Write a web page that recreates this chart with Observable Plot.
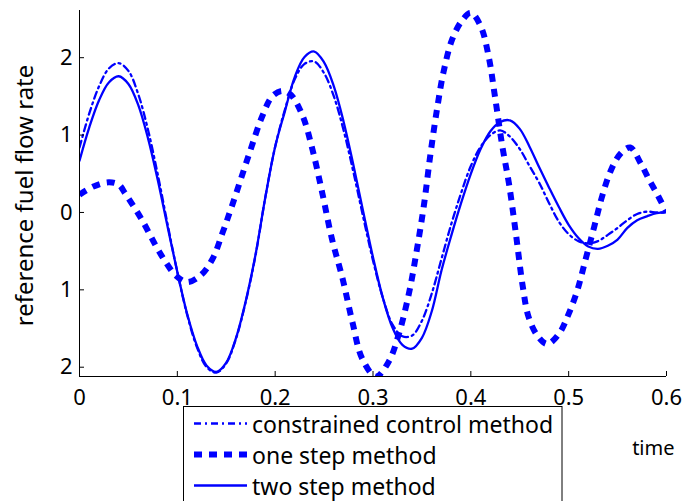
<!DOCTYPE html>
<html>
<head>
<meta charset="utf-8">
<script src="https://cdn.jsdelivr.net/npm/d3@7"></script>
<script src="https://cdn.jsdelivr.net/npm/@observablehq/plot@0.6"></script>
<style>
  html, body { margin: 0; padding: 0; background: #fff; }
  #wrap { position: relative; width: 685px; height: 501px; overflow: hidden; background: #fff; }
  #legend { position: absolute; left: 0; top: 0; }
</style>
</head>
<body>
<div id="wrap"></div>
<script>
// ---- data ----
const timeGrid = [0,0.01,0.02,0.03,0.04,0.05,0.06,0.07,0.08,0.09,0.10,0.11,0.12,0.13,0.14,0.15,0.16,0.17,0.18,0.19,0.20,0.21,0.22,0.23,0.24,0.25,0.26,0.27,0.28,0.29,0.30,0.31,0.32,0.33,0.34,0.35,0.36,0.37,0.38,0.39,0.40,0.41,0.42,0.43,0.44,0.45,0.46,0.47,0.48,0.49,0.50,0.51,0.52,0.53,0.54,0.55,0.56,0.57,0.58,0.59,0.60];
const constrainedValues = [0.84,1.28,1.63,1.86,1.93,1.83,1.53,1.07,0.49,-0.15,-0.77,-1.32,-1.74,-2.0,-2.07,-1.95,-1.63,-1.15,-0.55,0.2,0.85,1.33,1.72,1.92,1.95,1.80,1.50,1.06,0.52,-0.06,-0.62,-1.1,-1.45,-1.6,-1.59,-1.40,-1.05,-0.6,-0.15,0.25,0.6,0.85,1.0,1.06,0.98,0.82,0.60,0.38,0.12,-0.12,-0.28,-0.37,-0.40,-0.37,-0.29,-0.2,-0.1,-0.02,0.01,0.0,0.0];
const twoStepValues = [0.67,1.1,1.45,1.68,1.76,1.66,1.39,0.96,0.42,-0.18,-0.77,-1.31,-1.72,-1.98,-2.06,-1.94,-1.62,-1.14,-0.54,0.2,0.85,1.31,1.75,2.01,2.08,1.94,1.63,1.17,0.61,0.01,-0.58,-1.10,-1.49,-1.71,-1.76,-1.62,-1.28,-0.75,-0.3,0.12,0.5,0.82,1.05,1.17,1.19,1.08,0.85,0.58,0.32,0.07,-0.16,-0.33,-0.44,-0.47,-0.43,-0.35,-0.2,-0.1,-0.05,-0.01,0.0];
const oneStepTimes = [0,0.015,0.03,0.04,0.047,0.064,0.078,0.088,0.098,0.110,0.124,0.136,0.146,0.156,0.173,0.187,0.197,0.207,0.216,0.228,0.238,0.248,0.258,0.269,0.279,0.289,0.303,0.316,0.326,0.337,0.345,0.352,0.359,0.366,0.372,0.381,0.391,0.400,0.410,0.418,0.425,0.432,0.439,0.446,0.453,0.459,0.468,0.478,0.490,0.500,0.509,0.517,0.526,0.534,0.543,0.553,0.563,0.573,0.582,0.592,0.600];
const oneStepValues = [0.23,0.34,0.39,0.36,0.24,-0.10,-0.43,-0.64,-0.81,-0.90,-0.81,-0.60,-0.27,0.09,0.74,1.25,1.50,1.57,1.52,1.25,0.82,0.26,-0.34,-0.86,-1.42,-1.89,-2.12,-1.93,-1.59,-1.03,-0.47,0.09,0.78,1.38,1.81,2.24,2.48,2.58,2.41,2.03,1.47,0.87,0.37,-0.27,-0.95,-1.35,-1.59,-1.70,-1.57,-1.31,-1.0,-0.62,-0.19,0.20,0.54,0.76,0.84,0.65,0.43,0.2,0.0];

const seriesNames = ["constrained control method", "one step method", "two step method"];
const xTicks = [0, 0.1, 0.2, 0.3, 0.4, 0.5, 0.6];
const xTickLabels = ["0", "0.1", "0.2", "0.3", "0.4", "0.5", "0.6"];
const yTicks = [-2, -1, 0, 1, 2];
const yTickLabels = ["2", "1", "0", "1", "2"];
const xDomain = [0, 0.6];
const yDomain = [-2.12, 2.61];
const xLabel = "time";
const yLabel = "reference fuel flow rate";

// ---- tables built from the arrays ----
const constrainedData = timeGrid.map((t, i) => ({t, v: constrainedValues[i]}));
const twoStepData = timeGrid.map((t, i) => ({t, v: twoStepValues[i]}));
const oneStepData = oneStepTimes.map((t, i) => ({t, v: oneStepValues[i]}));

const BLUE = "#0000ff";
const styles = [
  {strokeWidth: 2.3, strokeDasharray: "7,4,2,4"},
  {strokeWidth: 6, strokeDasharray: "8,7"},
  {strokeWidth: 2.3, strokeDasharray: null}
];

const chart = Plot.plot({
  width: 685,
  height: 501,
  marginLeft: 79,
  marginRight: 19,
  marginTop: 10,
  marginBottom: 125,
  style: {fontFamily: "'Noto Sans', sans-serif", fontSize: "22px", color: "#000", background: "#fff", overflow: "visible"},
  x: {domain: xDomain},
  y: {domain: yDomain},
  marks: [
    Plot.line(constrainedData, {x: "t", y: "v", stroke: BLUE, curve: "catmull-rom", clip: true, ...styles[0]}),
    Plot.line(oneStepData, {x: "t", y: "v", stroke: BLUE, curve: "catmull-rom", clip: true, strokeLinecap: "butt", ...styles[1]}),
    Plot.line(twoStepData, {x: "t", y: "v", stroke: BLUE, curve: "catmull-rom", clip: true, ...styles[2]}),
    Plot.ruleY([yDomain[0]], {stroke: "#000", strokeWidth: 1}),
    Plot.ruleX([xDomain[0]], {stroke: "#000", strokeWidth: 1}),
    Plot.axisX({ticks: xTicks, tickFormat: d => xTickLabels[xTicks.indexOf(d)], tickSize: -5, tickPadding: 18, label: null, fontSize: 22}),
    Plot.axisY({ticks: yTicks, tickFormat: d => yTickLabels[yTicks.indexOf(d)], tickSize: -5, tickPadding: 12, label: null, fontSize: 22}),
    Plot.text([yLabel], {text: d => d, frameAnchor: "left", textAnchor: "middle", rotate: -90, dx: -54, dy: 2, fontSize: 24, lineAnchor: "middle", fill: "#000"}),
    Plot.text([xLabel], {text: d => d, frameAnchor: "bottom-right", textAnchor: "end", dx: 8, dy: 78, fontSize: 20, lineAnchor: "bottom", fill: "#000"})
  ]
});
document.getElementById("wrap").appendChild(chart);

// ---- legend (below the x axis, overlapping as in the reference) ----
const leg = d3.select("#wrap").append("svg")
  .attr("id", "legend").attr("width", 685).attr("height", 501)
  .style("font-family", "'Noto Sans', sans-serif");
leg.append("rect").attr("x", 183.5).attr("y", 406.5).attr("width", 378.5).attr("height", 120)
  .attr("fill", "#fff").attr("stroke", "#000").attr("stroke-width", 1);
const rowY = [423.5, 454.5, 485.5];
seriesNames.forEach((name, i) => {
  leg.append("line").attr("x1", 194).attr("x2", 247).attr("y1", rowY[i]).attr("y2", rowY[i])
    .attr("stroke", BLUE).attr("stroke-width", styles[i].strokeWidth)
    .attr("stroke-dasharray", styles[i].strokeDasharray);
  leg.append("text").attr("x", 252).attr("y", rowY[i] + 9).attr("font-size", 23).attr("fill", "#000").text(name);
});
</script>
</body>
</html>
